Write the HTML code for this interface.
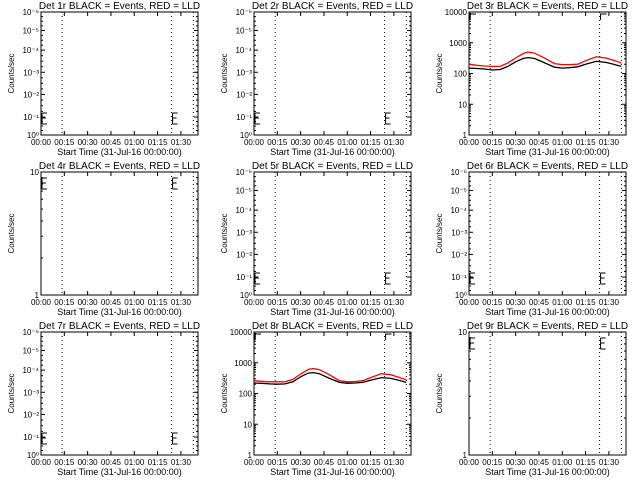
<!DOCTYPE html>
<html><head><meta charset="utf-8"><style>
html,body{margin:0;padding:0;background:#fff;}
svg{display:block;font-family:"Liberation Sans",sans-serif;}
</style></head><body>
<svg id="c" width="640" height="480" viewBox="0 0 640 480" xmlns="http://www.w3.org/2000/svg"></svg>
<script>
const detNames = ["1r","2r","3r","4r","5r","6r","7r","8r","9r"];
const timeMin = [0,5,10,15,20,25,30,35,38,42,48,55,60,65,70,75,82,88,93,98];
const det3Black = [150,145,140,130,135,170,240,310,330,310,230,160,150,155,165,200,250,230,200,170];
const det3Red = [200,185,175,170,170,220,320,450,500,460,330,210,195,195,200,260,350,320,270,220];
const det8Black = [220,215,205,200,205,240,350,460,480,440,320,230,215,220,230,270,330,310,270,230];
const det8Red = [260,250,240,240,240,290,430,610,650,600,420,260,240,245,260,330,440,410,340,280];
const xTickLabels = ["00:00","00:15","00:30","00:45","01:00","01:15","01:30"];
const dottedTimes = [13.6,84,98];
const lowLabels = ["10\u2070","10\u207B\u00B9","10\u207B\u00B2","10\u207B\u00B3","10\u207B\u2074","10\u207B\u2075","10\u207B\u2076"];
const lowLabelFrac = [0,0.146,0.33,0.51,0.69,0.85,1];
const colL=[41,254,469], rowT=[12,172,332], W=157, H=123, TMAX=101;
const svg=document.getElementById('c');
const NS="http://www.w3.org/2000/svg";
function mk(tag,attrs,parent){const e=document.createElementNS(NS,tag);for(const k in attrs)e.setAttribute(k,attrs[k]);(parent||svg).appendChild(e);return e;}
function txt(s,attrs,parent){const e=mk('text',attrs,parent);e.textContent=s;return e;}
const panelType=["low","low","data3","one","low","low","low","data8","one"];
for(let i=0;i<9;i++){
  const x0=colL[i%3], y0=rowT[Math.floor(i/3)];
  const g=mk('g',{});
  
  
  const xs=t=>x0+t/TMAX*W;
  const type=panelType[i];
  let ys;
  if(type.startsWith('data')){ys=v=>y0+H-(Math.log10(v))/4*H;}
  else if(type==='one'){ys=v=>y0+H-(Math.log10(v))*H;}
  else {ys=f=>y0+H-f*H;}
  const fr=mk('rect',{x:x0,y:y0,width:W,height:H,fill:'none',stroke:'#000','stroke-width':1},g);
  
  const tt=txt('Det '+detNames[i]+' BLACK = Events, RED = LLD',{x:x0+W/2,y:y0-3,'font-size':10,'text-anchor':'middle'},g);
  
  xTickLabels.forEach((l,k)=>{const x=xs(k*15);
    mk('line',{x1:x,y1:y0+H,x2:x,y2:y0+H-4,stroke:'#000'},g);
    mk('line',{x1:x,y1:y0,x2:x,y2:y0+4,stroke:'#000'},g);
    const tl=txt(l,{x:x,y:y0+H+10,'font-size':8,'text-anchor':'middle'},g);
    });
  const xl=txt('Start Time (31-Jul-16 00:00:00)',{x:x0+W/2,y:y0+H+20,'font-size':9,'text-anchor':'middle'},g);
  
  const yl=txt('Counts/sec',{x:0,y:0,'font-size':8,'text-anchor':'middle',transform:'translate('+(x0-27)+','+(y0+H/2)+') rotate(-90)'},g);
  
  const ytick=(y,len,label)=>{mk('line',{x1:x0,y1:y,x2:x0+len,y2:y,stroke:'#000'},g);mk('line',{x1:x0+W,y1:y,x2:x0+W-len,y2:y,stroke:'#000'},g);
    if(label!=null){const l=txt(label,{x:x0-2,y:y+3,'font-size':8,'text-anchor':'end'},g);}};
  if(type.startsWith('data')){
    ["1","10","100","1000","10000"].forEach((l,k)=>{ytick(ys(Math.pow(10,k)),4,l);if(k<4)for(let m=2;m<10;m++)ytick(ys(m*Math.pow(10,k)),2,null);});
  } else if(type==='one'){
    ytick(ys(1),4,'1');ytick(ys(10),4,'10');for(let m=2;m<10;m++)ytick(ys(m),2,null);
  } else {
    lowLabels.forEach((l,k)=>{ytick(ys(lowLabelFrac[k]),4,l);});
    for(let k=0;k<6;k++){const a=lowLabelFrac[k],b=lowLabelFrac[k+1];for(let m=1;m<4;m++)ytick(ys(a+(b-a)*m/4),2,null);}
  }
  dottedTimes.forEach(t=>{const d=mk('line',{x1:xs(t),y1:y0,x2:xs(t),y2:y0+H,stroke:'#000','stroke-dasharray':'1,3'},g);});
  [0,84].forEach(t=>{const x=xs(t)+1;let d;
    if(type.startsWith('data')){const yb=y0+2;d=`M${x} ${yb+6}V${yb}H${x+6}`;}
    else{const yb=type==='one'?y0+6:y0+H-22;d=`M${x} ${yb}V${yb+11}M${x} ${yb}h5M${x} ${yb+5}h4M${x} ${yb+11}h5`;}
    const p=mk('path',{d:d,fill:'none',stroke:'#000'},g);
    });
  if(type.startsWith('data')){
    const bl=type==='data3'?det3Black:det8Black, rd=type==='data3'?det3Red:det8Red;
    const pts=a=>a.map((v,k)=>xs(timeMin[k]).toFixed(1)+','+ys(v).toFixed(1)).join(' ');
    const r=mk('polyline',{points:pts(rd),fill:'none',stroke:'#f00','stroke-width':1.3},g);
    
    const b=mk('polyline',{points:pts(bl),fill:'none',stroke:'#000','stroke-width':1.3},g);
    
  }
}
</script>
</body></html>
